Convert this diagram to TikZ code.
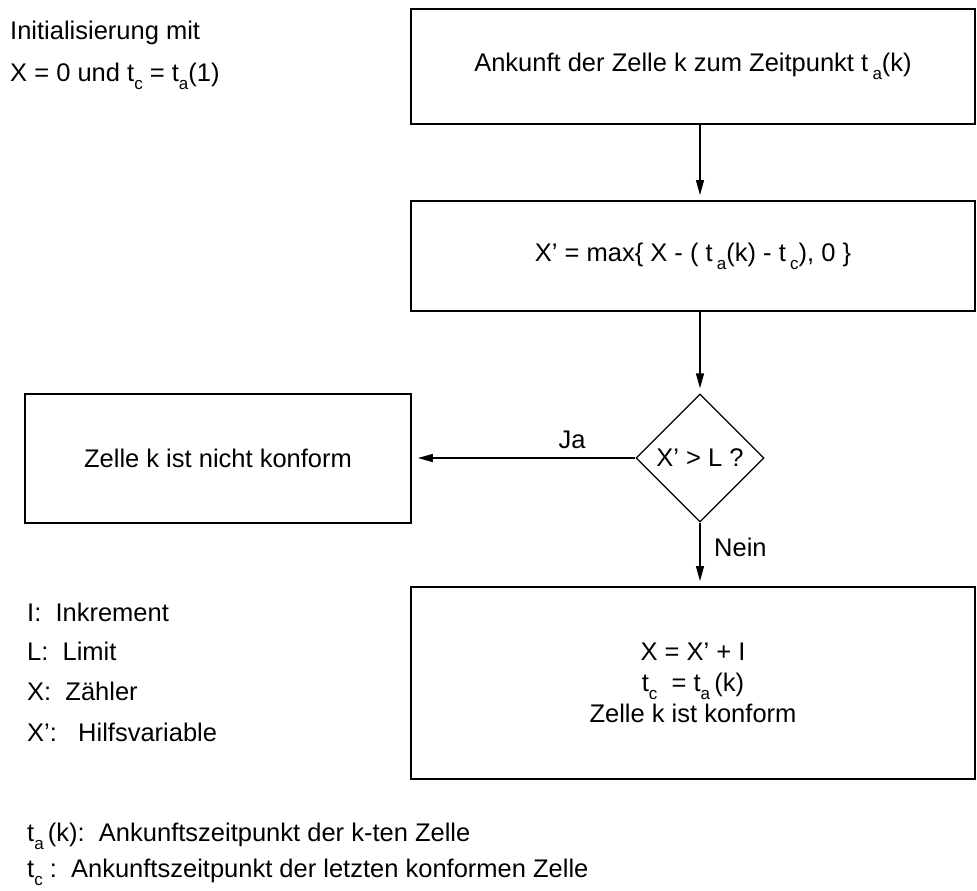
\documentclass[tikz,border=0pt]{standalone}
\usepackage{fontspec}
\setmainfont{Liberation Sans}
\usetikzlibrary{arrows.meta,shapes.geometric}
\newcommand{\mysub}[1]{\raisebox{-0.32em}{\fontsize{17}{17}\selectfont #1}}
\tikzset{
  box/.style={draw, line width=1.8pt, rectangle, inner sep=0pt, align=center},
  arr/.style={line width=1.3pt, -{Triangle[length=15pt,width=8pt]}},
  txt/.style={inner sep=0pt, anchor=west},
  lab/.style={inner sep=0pt},
}
\begin{document}
\begin{tikzpicture}[x=1pt,y=-1pt,font=\fontsize{25.5}{31}\selectfont]
\useasboundingbox (0,0) rectangle (977,891);
\node[box, minimum width=564pt, minimum height=115pt] (b1) at (693,66.5) {Ankunft der Zelle k zum Zeitpunkt t\,\mysub{a}(k)};
\node[box, minimum width=564pt, minimum height=110pt] (b2) at (693,256) {X’ = max\{ X - ( t\,\mysub{a}(k) - t\,\mysub{c}), 0 \}};
\node[draw, line width=1.3pt, shape=diamond, aspect=1, inner sep=0pt, minimum width=128pt, minimum height=128pt] (d) at (700,458) {X’ > L ?};
\node[box, minimum width=386pt, minimum height=129pt] (b3) at (218,458.5) {Zelle k ist nicht konform};
\node[box, minimum width=564pt, minimum height=192pt] (b4) at (693,683) {X = X’ + I\\ t\mysub{c} \ = t\mysub{a}\,(k)\\ Zelle k ist konform};

\draw[arr] (b1.south -| d.north) -- ([yshift=5pt]b2.north -| d.north);
\draw[arr] (b2.south -| d.north) -- ([yshift=5pt]d.north);
\draw[arr] (d.south) -- ([yshift=5pt]b4.north -| d.south);
\draw[arr] (d.west) -- ([xshift=6pt]b3.east |- d.west);

\node[lab] (ja) at (572,440) {Ja};
\node[lab, anchor=west] (nein) at (714,547) {Nein};

\node[txt] (i1) at (10,33) {Initialisierung mit};
\node[txt] (i2) at (10,76) {X = 0 und t\mysub{c} = t\mysub{a}(1)};

\node[txt] (l1) at (27,612) {I:\ \ Inkrement};
\node[txt] (l2) at (27,651) {L:\ \ Limit};
\node[txt] (l3) at (27,691) {X:\ \ Zähler};
\node[txt] (l4) at (27,732) {X’:\ \ \ Hilfsvariable};

\node[txt] (f1) at (27,836) {t\mysub{a}\,(k):\ \ Ankunftszeitpunkt der k-ten Zelle};
\node[txt] (f2) at (27,872) {t\mysub{c}\ :\ \ Ankunftszeitpunkt der letzten konformen Zelle};
\end{tikzpicture}
\end{document}
